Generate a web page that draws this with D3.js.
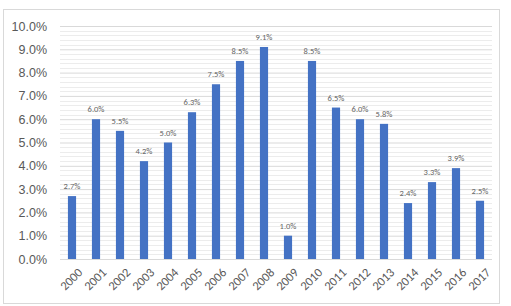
<!DOCTYPE html>
<html>
<head>
<meta charset="utf-8">
<script src="https://cdn.jsdelivr.net/npm/d3@7"></script>
<style>
  body { margin: 0; background: #fff; }
  svg { font-family: Calibri, Carlito, "Liberation Sans", sans-serif; }
</style>
</head>
<body>
<svg id="chart" width="511" height="306"></svg>
<script>
// data
let years = ['2000','2001','2002','2003','2004','2005','2006','2007','2008',
  '2009','2010','2011','2012','2013','2014','2015','2016','2017'];
let growth = [2.7, 6.0, 5.5, 4.2, 5.0, 6.3, 7.5, 8.5, 9.1, 1.0, 8.5, 6.5, 6.0, 5.8, 2.4, 3.3, 3.9, 2.5];
let yTicks = [0, 1, 2, 3, 4, 5, 6, 7, 8, 9, 10];

let svg = d3.select('#chart');
let plotL = 60, plotR = 492, plotT = 26, plotB = 259;

// outer frame
svg.append('rect')
  .attr('x', 3.5).attr('y', 9.5)
  .attr('width', 496).attr('height', 294)
  .attr('fill', 'none').attr('stroke', '#d9d9d9');

let x = d3.scaleBand().domain(years).range([plotL, plotR]).paddingInner(0.66).paddingOuter(0.33);
let y = d3.scaleLinear().domain([0, 10]).range([plotB, plotT]);

// minor grid (0.2 step)
let minor = d3.range(0, 10.01, 0.2).filter(v => Math.abs(v - Math.round(v)) > 0.01);
svg.append('g').selectAll('line').data(minor).join('line')
  .attr('x1', plotL).attr('x2', plotR)
  .attr('y1', d => Math.round(y(d)) + 0.5).attr('y2', d => Math.round(y(d)) + 0.5)
  .attr('stroke', '#ececec');

// major grid + y labels
let yAxis = d3.axisLeft(y).tickValues(yTicks)
  .tickFormat(d => d.toFixed(1) + '%')
  .tickSize(-(plotR - plotL)).tickPadding(13);
let gy = svg.append('g').attr('transform', `translate(${plotL},0)`).call(yAxis);
gy.select('.domain').remove();
gy.selectAll('.tick line').attr('stroke', '#d9d9d9');
gy.selectAll('.tick text').attr('fill', '#595959').style('font-size', '12.5px');

// bars
svg.append('g').selectAll('rect').data(growth).join('rect')
  .attr('x', (d, i) => x(years[i]))
  .attr('width', x.bandwidth())
  .attr('y', d => y(d))
  .attr('height', d => y(0) - y(d))
  .attr('fill', '#4472c4');

// value labels
svg.append('g').selectAll('text').data(growth).join('text')
  .attr('x', (d, i) => x(years[i]) + x.bandwidth() / 2)
  .attr('y', d => y(d) - 7)
  .attr('text-anchor', 'middle')
  .attr('fill', '#666')
  .style('font-size', '8.5px')
  .text(d => d.toFixed(1) + '%');

// x labels
svg.append('g').selectAll('text').data(years).join('text')
  .attr('transform', d => `translate(${x(d) + x.bandwidth() / 2 + 5},${plotB + 8}) rotate(-45)`)
  .attr('text-anchor', 'end')
  .attr('dy', '0.7em')
  .attr('fill', '#595959')
  .style('font-size', '12.5px')
  .text(d => d);
</script>
</body>
</html>
